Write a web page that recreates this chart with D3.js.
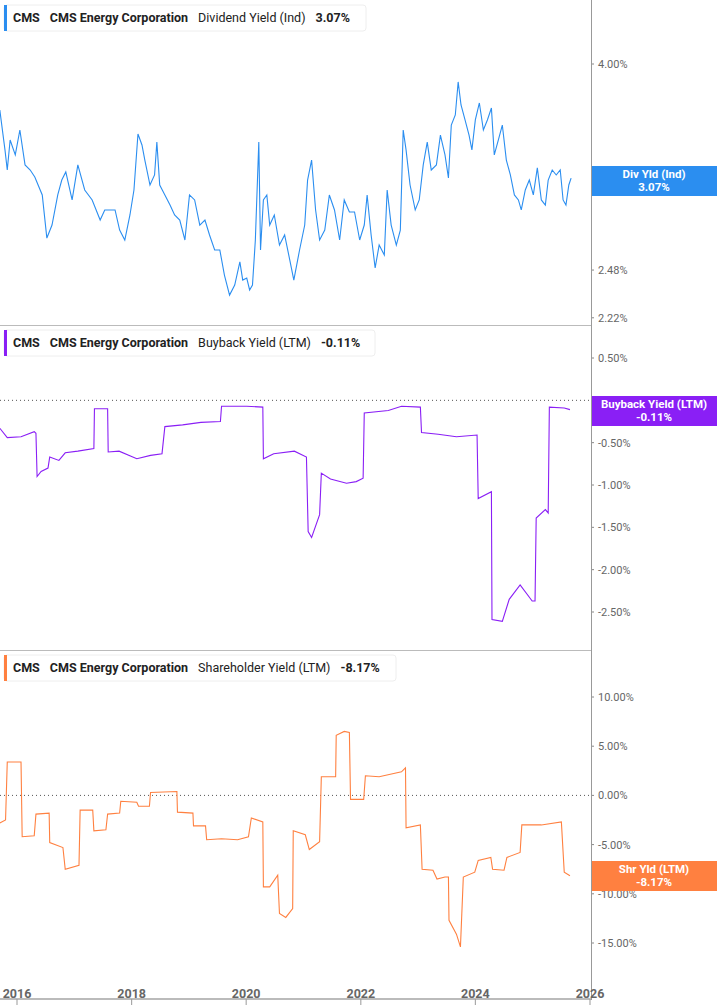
<!DOCTYPE html>
<html>
<head>
<meta charset="utf-8">
<script src="https://cdn.jsdelivr.net/npm/d3@7"></script>
<style>
  body { margin: 0; background: #fff; }
  svg { display: block; font-family: Roboto, "Liberation Sans", sans-serif; }
</style>
</head>
<body>
<svg id="chart" width="717" height="1005"></svg>
<script>
// dividend yield (Ind), % — [decimal year, value]
const divYield = [
  [2015.70,3.595],[2015.79,3.277],[2015.83,3.128],[2015.88,3.353],[2015.97,3.239],[2016.05,3.432],
  [2016.14,3.165],[2016.23,3.128],[2016.31,3.078],[2016.44,2.952],[2016.52,2.671],[2016.61,2.753],
  [2016.71,2.952],[2016.78,3.056],[2016.85,3.114],[2016.96,2.918],[2017.06,3.165],[2017.18,2.986],
  [2017.31,2.918],[2017.45,2.785],[2017.53,2.851],[2017.71,2.851],[2017.79,2.721],[2017.88,2.659],
  [2017.97,2.818],[2018.04,2.986],[2018.11,3.40],[2018.18,3.315],[2018.23,3.201],[2018.32,3.021],
  [2018.40,3.092],[2018.44,3.337],[2018.49,3.021],[2018.58,2.952],[2018.67,2.884],[2018.75,2.818],
  [2018.84,2.785],[2018.93,2.659],[2019.01,2.952],[2019.10,2.918],[2019.19,2.753],[2019.28,2.785],
  [2019.36,2.690],[2019.45,2.598],[2019.54,2.598],[2019.62,2.451],[2019.71,2.340],[2019.80,2.395],
  [2019.89,2.527],[2019.94,2.423],[2020.01,2.434],[2020.06,2.368],[2020.11,2.395],[2020.16,2.659],
  [2020.22,3.337],[2020.25,2.598],[2020.30,2.918],[2020.36,2.952],[2020.41,2.753],[2020.49,2.818],
  [2020.58,2.628],[2020.67,2.690],[2020.76,2.538],[2020.83,2.423],[2020.93,2.598],[2021.02,2.753],
  [2021.07,3.056],[2021.14,3.201],[2021.21,2.851],[2021.28,2.659],[2021.37,2.721],[2021.45,2.952],
  [2021.54,2.851],[2021.63,2.659],[2021.71,2.918],[2021.80,2.838],[2021.89,2.838],[2021.98,2.659],
  [2022.06,2.753],[2022.11,2.952],[2022.18,2.690],[2022.25,2.492],[2022.32,2.628],[2022.41,2.568],
  [2022.46,2.986],[2022.53,2.753],[2022.62,2.628],[2022.69,2.721],[2022.74,3.432],[2022.79,3.277],
  [2022.86,3.021],[2022.95,2.851],[2023.02,2.918],[2023.09,3.165],[2023.16,3.337],[2023.23,3.128],
  [2023.32,3.165],[2023.39,3.392],[2023.47,3.239],[2023.53,3.071],[2023.58,3.472],[2023.65,3.554],
  [2023.70,3.837],[2023.75,3.637],[2023.82,3.513],[2023.89,3.392],[2023.94,3.277],[2024.00,3.513],
  [2024.07,3.654],[2024.14,3.432],[2024.21,3.513],[2024.28,3.612],[2024.33,3.239],[2024.40,3.353],
  [2024.47,3.472],[2024.54,3.201],[2024.61,3.092],[2024.68,2.952],[2024.75,2.918],[2024.80,2.851],
  [2024.87,2.986],[2024.94,3.056],[2025.01,2.952],[2025.08,3.143],[2025.15,2.918],[2025.22,2.884],
  [2025.27,3.056],[2025.34,3.128],[2025.41,3.092],[2025.48,3.128],[2025.53,2.918],[2025.58,2.884],
  [2025.63,3.021],[2025.67,3.07]
];

// buyback yield (LTM), %
const buybackYield = [
  [2015.70,-0.33],[2015.83,-0.44],[2016.07,-0.43],[2016.30,-0.37],[2016.33,-0.39],[2016.35,-0.90],
  [2016.42,-0.84],[2016.54,-0.80],[2016.57,-0.67],[2016.73,-0.71],[2016.84,-0.62],[2017.06,-0.60],
  [2017.34,-0.57],[2017.35,-0.10],[2017.58,-0.10],[2017.59,-0.61],[2017.78,-0.60],[2018.09,-0.69],
  [2018.33,-0.65],[2018.53,-0.63],[2018.58,-0.31],[2018.89,-0.29],[2019.21,-0.26],[2019.55,-0.25],
  [2019.57,-0.07],[2020.01,-0.07],[2020.29,-0.08],[2020.30,-0.69],[2020.48,-0.63],[2020.84,-0.60],
  [2021.05,-0.67],[2021.08,-1.55],[2021.14,-1.62],[2021.28,-1.35],[2021.31,-0.86],[2021.47,-0.93],
  [2021.75,-0.98],[2021.92,-0.96],[2022.04,-0.92],[2022.06,-0.15],[2022.48,-0.12],[2022.71,-0.07],
  [2023.04,-0.08],[2023.06,-0.38],[2023.35,-0.40],[2023.67,-0.43],[2024.03,-0.41],[2024.05,-1.16],
  [2024.28,-1.08],[2024.29,-2.59],[2024.47,-2.61],[2024.59,-2.35],[2024.78,-2.18],[2024.99,-2.37],
  [2025.04,-2.37],[2025.06,-1.39],[2025.22,-1.29],[2025.27,-1.33],[2025.29,-0.08],[2025.55,-0.09],
  [2025.65,-0.11]
];

// shareholder yield (LTM), %
const shareholderYield = [
  [2015.70,-2.8],[2015.80,-2.5],[2015.83,3.4],[2016.07,3.4],[2016.09,-4.2],[2016.30,-4.1],
  [2016.33,-1.9],[2016.56,-1.8],[2016.57,-4.8],[2016.80,-5.3],[2016.84,-7.5],[2017.08,-7.1],
  [2017.10,-1.5],[2017.32,-1.5],[2017.34,-3.6],[2017.55,-3.5],[2017.58,-1.9],[2017.79,-1.8],
  [2017.81,-0.6],[2018.09,-0.7],[2018.12,-1.1],[2018.31,-1.1],[2018.33,0.3],[2018.79,0.4],
  [2018.80,-1.7],[2019.07,-1.8],[2019.08,-3.1],[2019.29,-3.1],[2019.31,-4.5],[2019.57,-4.4],
  [2019.85,-4.5],[2020.04,-4.2],[2020.09,-2.3],[2020.29,-2.7],[2020.30,-9.3],[2020.41,-9.3],
  [2020.55,-8.1],[2020.58,-12.0],[2020.69,-12.4],[2020.81,-11.5],[2020.82,-3.6],[2021.03,-4.0],
  [2021.10,-5.5],[2021.28,-4.7],[2021.31,1.9],[2021.56,1.9],[2021.57,6.1],[2021.71,6.5],
  [2021.80,6.4],[2021.82,-0.4],[2022.05,-0.4],[2022.08,2.0],[2022.32,1.9],[2022.71,2.4],
  [2022.78,2.8],[2022.79,-3.3],[2023.04,-3.0],[2023.07,-7.5],[2023.26,-7.6],[2023.33,-8.5],
  [2023.47,-8.3],[2023.53,-8.3],[2023.54,-12.7],[2023.67,-14.1],[2023.74,-15.4],[2023.79,-8.3],
  [2023.99,-7.8],[2024.05,-6.6],[2024.27,-6.3],[2024.30,-7.5],[2024.50,-7.6],[2024.55,-6.3],
  [2024.78,-5.8],[2024.81,-3.0],[2025.15,-3.0],[2025.50,-2.7],[2025.55,-7.8],[2025.65,-8.17]
];

const divTicks = [4.00, 3.00, 2.48, 2.22];
const buybackTicks = [0.5, -0.5, -1, -1.5, -2, -2.5];
const shrTicks = [10, 5, 0, -5, -10, -15];
const yearTicks = [2016, 2018, 2020, 2022, 2024, 2026];

const svg = d3.select('#chart');
const axisX = 591;

const toDate = y => {
  const yr = Math.floor(y);
  const s = new Date(yr, 0, 1), e = new Date(yr + 1, 0, 1);
  return new Date(+s + (y - yr) * (e - s));
};
const x = d3.scaleTime().domain([new Date(2016,0,1), new Date(2026,0,1)]).range([17, 590]);

const panels = [
  { data: divYield, top: 0, bottom: 325, color: '#2b8ef0',
    y: d3.scaleLog().domain([4, 3]).range([64, 188]), ticks: divTicks,
    fmt: d => d.toFixed(2) + '%', label: 'Dividend Yield (Ind)', last: '3.07%',
    badge: ['Div Yld (Ind)', '3.07%'], badgeY: 166, legendW: 362, zero: false },
  { data: buybackYield, top: 325, bottom: 650, color: '#8a1ff5',
    y: d3.scaleLinear().domain([0.5, -2.5]).range([358, 612]), ticks: buybackTicks,
    fmt: d => d.toFixed(2) + '%', label: 'Buyback Yield (LTM)', last: '-0.11%',
    badge: ['Buyback Yield (LTM)', '-0.11%'], badgeY: 396, legendW: 371, zero: true },
  { data: shareholderYield, top: 650, bottom: 1000, color: '#ff8040',
    y: d3.scaleLinear().domain([10, -15]).range([697, 943]), ticks: shrTicks,
    fmt: d => d.toFixed(2) + '%', label: 'Shareholder Yield (LTM)', last: '-8.17%',
    badge: ['Shr Yld (LTM)', '-8.17%'], badgeY: 861, legendW: 392, zero: true }
];

panels.forEach((p, i) => {
  const clipId = 'clip' + i;
  svg.append('clipPath').attr('id', clipId).append('rect')
    .attr('x', 0).attr('y', p.top).attr('width', axisX).attr('height', p.bottom - p.top);

  // separator
  if (i > 0) svg.append('line').attr('x1', 0).attr('x2', axisX)
    .attr('y1', p.top + 0.5).attr('y2', p.top + 0.5).attr('stroke', '#bbb');

  if (p.zero) svg.append('line').attr('x1', 0).attr('x2', axisX)
    .attr('y1', p.y(0)).attr('y2', p.y(0))
    .attr('stroke', '#555').attr('stroke-dasharray', '1,3');

  // ticks + labels on right
  const tg = svg.append('g');
  p.ticks.forEach(t => {
    if (p.zero && t === 0 && i === 1) return;
    const yy = p.y(t);
    tg.append('line').attr('x1', axisX).attr('x2', axisX + 3).attr('y1', yy).attr('y2', yy).attr('stroke', '#888');
    tg.append('text').attr('x', axisX + 7).attr('y', yy + 4)
      .attr('font-size', 11).attr('fill', '#666').text(p.fmt(t));
  });

  const line = d3.line().x(d => x(toDate(d[0]))).y(d => p.y(d[1]));
  svg.append('path').datum(p.data).attr('clip-path', `url(#${clipId})`)
    .attr('d', line).attr('fill', 'none').attr('stroke', p.color).attr('stroke-width', 1.1);

  // legend box
  const lg = svg.append('g').attr('transform', `translate(4,${p.top + 5})`);
  lg.append('rect').attr('width', p.legendW).attr('height', 26).attr('rx', 3)
    .attr('fill', '#fff').attr('stroke', '#eee');
  lg.append('rect').attr('width', 3).attr('height', 26).attr('fill', p.color);
  const txt = lg.append('text').attr('x', 9).attr('y', 17).attr('font-size', 12.5).attr('fill', '#222');
  txt.append('tspan').attr('font-weight', 'bold').text('CMS');
  txt.append('tspan').attr('dx', 10).attr('font-weight', 'bold').text('CMS Energy Corporation');
  txt.append('tspan').attr('dx', 10).text(p.label);
  txt.append('tspan').attr('dx', 10).attr('font-weight', 'bold').text(p.last);

  // badge
  const bg = svg.append('g').attr('transform', `translate(${axisX},${p.badgeY})`);
  bg.append('rect').attr('width', 717 - axisX).attr('height', 30).attr('fill', p.color);
  p.badge.forEach((b, k) => bg.append('text').attr('x', (717 - axisX) / 2).attr('y', 12 + k * 13)
    .attr('text-anchor', 'middle').attr('font-size', 11.5).attr('font-weight', 'bold')
    .attr('fill', '#fff').text(b));
});

// right axis line
svg.append('line').attr('x1', axisX + 0.5).attr('x2', axisX + 0.5).attr('y1', 0).attr('y2', 1000).attr('stroke', '#999');

// bottom x axis
svg.append('line').attr('x1', 0).attr('x2', axisX).attr('y1', 999).attr('y2', 999).attr('stroke', '#bbb').attr('stroke-width', 2);
yearTicks.forEach(yr => {
  const xx = x(new Date(yr, 0, 1));
  svg.append('line').attr('x1', xx).attr('x2', xx).attr('y1', 999).attr('y2', 1005).attr('stroke', '#999');
  svg.append('text').attr('x', xx).attr('y', 998).attr('text-anchor', 'middle')
    .attr('font-size', 12.5).attr('font-weight', 'bold').attr('fill', '#666').text(yr);
});
</script>
</body>
</html>
